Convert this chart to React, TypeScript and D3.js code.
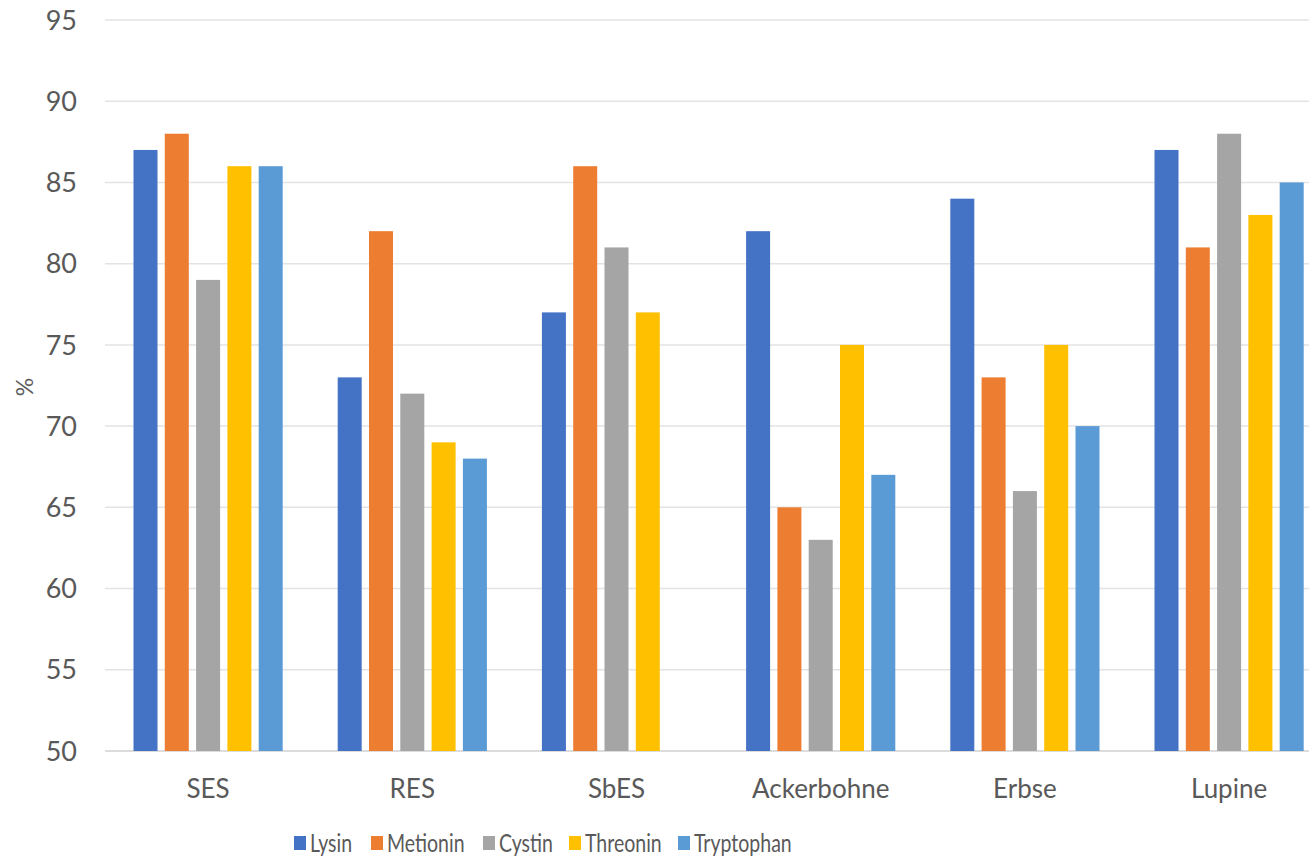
import React, { useEffect, useRef } from 'react';
import * as d3 from 'd3';

const categories = ['SES', 'RES', 'SbES', 'Ackerbohne', 'Erbse', 'Lupine'];
const seriesNames = ['Lysin', 'Metionin', 'Cystin', 'Threonin', 'Tryptophan'];
const seriesColors = ['#4472C4', '#ED7D31', '#A5A5A5', '#FFC000', '#5B9BD5'];

const lysin = [87, 73, 77, 82, 84, 87];
const metionin = [88, 82, 86, 65, 73, 81];
const cystin = [79, 72, 81, 63, 66, 88];
const threonin = [86, 69, 77, 75, 75, 83];
const tryptophan = [86, 68, null, 67, 70, 85];

const yTicks = [50, 55, 60, 65, 70, 75, 80, 85, 90, 95];

const W = 1309;
const H = 858;
const FONT = 'Lato, "Open Sans", sans-serif';
const TEXT = '#595959';

const App = () => {
  const svgRef = useRef(null);

  useEffect(() => {
    document.body.style.margin = '0';
    const svg = d3.select(svgRef.current);
    svg.selectAll('*').remove();

    const series = [lysin, metionin, cystin, threonin, tryptophan];

    const x = d3.scaleBand()
      .domain(categories)
      .range([106, 106 + 204.2 * categories.length])
      .padding(0);

    const xInner = d3.scaleBand()
      .domain(seriesNames)
      .range([27.5, 176.7])
      .paddingInner(0.233)
      .paddingOuter(0);

    const y = d3.scaleLinear().domain([50, 95]).range([751, 20]);

    // grid lines
    svg.append('g')
      .selectAll('line')
      .data(yTicks)
      .join('line')
      .attr('x1', 105)
      .attr('x2', W)
      .attr('y1', d => y(d))
      .attr('y2', d => y(d))
      .attr('stroke', d => (d === 50 ? '#d0d0d0' : '#e3e3e3'))
      .attr('stroke-width', 1.5);

    // tick labels
    svg.append('g')
      .selectAll('text')
      .data(yTicks)
      .join('text')
      .attr('x', 77)
      .attr('y', d => y(d))
      .attr('dy', '0.36em')
      .attr('text-anchor', 'end')
      .attr('font-family', FONT)
      .attr('font-size', 27)
      .attr('fill', TEXT)
      .text(d => d);

    // bars
    series.forEach((values, si) => {
      svg.append('g')
        .selectAll('rect')
        .data(values.map((v, i) => ({ v, c: categories[i] })).filter(d => d.v != null))
        .join('rect')
        .attr('x', d => x(d.c) + xInner(seriesNames[si]))
        .attr('width', xInner.bandwidth())
        .attr('y', d => y(d.v))
        .attr('height', d => y(50) - y(d.v))
        .attr('fill', seriesColors[si]);
    });

    // category labels
    svg.append('g')
      .selectAll('text')
      .data(categories)
      .join('text')
      .attr('x', d => x(d) + x.bandwidth() / 2)
      .attr('y', 798)
      .attr('text-anchor', 'middle')
      .attr('font-family', FONT)
      .attr('font-size', 26)
      .attr('fill', TEXT)
      .text(d => d);

    // y axis title
    svg.append('text')
      .attr('transform', 'translate(33,387) rotate(-90)')
      .attr('text-anchor', 'middle')
      .attr('font-family', FONT)
      .attr('font-size', 23)
      .attr('fill', TEXT)
      .text('%');

    // legend
    const legendX = [294, 371, 483, 569, 678];
    const legend = svg.append('g');
    seriesNames.forEach((name, i) => {
      legend.append('rect')
        .attr('x', legendX[i])
        .attr('y', 836)
        .attr('width', 12)
        .attr('height', 14)
        .attr('fill', seriesColors[i]);
      const t = legend.append('text')
        .attr('x', legendX[i] + 16)
        .attr('y', 852)
        .attr('font-family', FONT)
        .attr('font-size', 25)
        .attr('fill', TEXT)
        .text(name);
      // squeeze a bit, the original font is narrower
      const len = t.node().getComputedTextLength();
      t.attr('textLength', len * 0.78).attr('lengthAdjust', 'spacingAndGlyphs');
    });
  }, []);

  return <svg ref={svgRef} width={W} height={H} style={{ display: 'block', background: '#fff' }}></svg>;
};

export default App;
